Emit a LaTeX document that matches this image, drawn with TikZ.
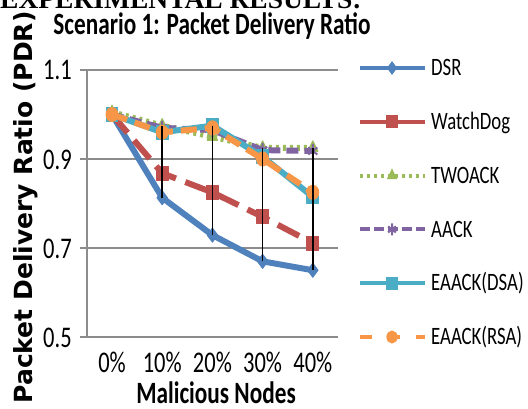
\documentclass[tikz,border=0pt]{standalone}
\usepackage{fontspec}
\setmainfont{Carlito}[FakeStretch=0.75]
\newfontfamily\ylabelfont{DejaVu Sans}
\newfontfamily\headfont{Liberation Serif}
\usetikzlibrary{plotmarks}

\definecolor{dsrblue}{HTML}{4F81BD}
\definecolor{wdred}{HTML}{C0504D}
\definecolor{twogreen}{HTML}{9BBB59}
\definecolor{aackpurple}{HTML}{8064A2}
\definecolor{dsateal}{HTML}{4BACC6}
\definecolor{rsaorange}{HTML}{F79646}
\definecolor{gridgray}{HTML}{8C8C8C}

\begin{document}
\begin{tikzpicture}[x=1pt, y=-1pt,
gridline/.style={draw=gridgray, line width=2pt},
hilo/.style={draw=black, line width=1.6pt},
plotline/.style={line width=6pt, line join=round, mark size=7pt},
keyline/.style={line width=4pt, mark size=6pt},
dsr/.style={draw=dsrblue, mark=diamond*, mark options={solid, line width=1pt, fill=dsrblue}},
watchdog/.style={draw=wdred, dash pattern=on 24pt off 10pt, mark=square*, mark options={solid, line width=1pt, fill=wdred, xscale=0.85}},
twoack/.style={draw=twogreen, dash pattern=on 3pt off 4pt, mark=triangle*, mark options={solid, line width=1pt, fill=twogreen, xscale=0.85}},
aack/.style={draw=aackpurple, dash pattern=on 12pt off 6pt, mark=asterisk, mark options={solid, line width=2pt, xscale=0.75}},
eaackdsa/.style={draw=dsateal, mark=square*, mark options={solid, line width=1pt, fill=dsateal, xscale=0.85}},
eaackrsa/.style={draw=rsaorange, dash pattern=on 16pt off 8pt, mark=*, mark options={solid, line width=1pt, fill=rsaorange, xscale=0.85}},
samekey/.style={},
solidkey/.style={solid},
aackkey/.style={dash pattern=on 10pt off 4pt},
rsakey/.style={dash pattern=on 12pt off 16pt},
ticklbl/.style={font=\fontsize{30}{32}\selectfont, inner sep=0pt},
keylbl/.style={font=\fontsize{25}{28}\selectfont, inner sep=0pt, anchor=base west}
]
\useasboundingbox (0,0) rectangle (528,409);
\clip (0,0) rectangle (528,409);

% heading cut off at the top
\node[font=\headfont\bfseries\fontsize{27.5}{30}\selectfont, anchor=base west, inner sep=0pt] (heading) at (0,8.5) {EXPERIMENTAL RESULTS:};
\node[font=\bfseries\fontsize{31}{34}\selectfont, anchor=base, inner sep=0pt] (title) at (212,35) {Scenario 1: Packet Delivery Ratio};
\node[font=\ylabelfont\bfseries\fontsize{25}{28}\selectfont, rotate=90, anchor=base, inner sep=0pt] (ylabel) at (32,207.5) {Packet Delivery Ratio (PDR)};
\node[font=\bfseries\fontsize{31}{34}\selectfont, anchor=base, inner sep=0pt] (xlabel) at (216,403) {Malicious Nodes};

% chart area: categories 0..4, values 0.5..1.1
\begin{scope}[shift={(112,559.5)}, x=50.2pt, y=445pt]
\foreach \v in {0.7,0.9,1.1}
  \draw[gridline] (-0.5,\v) -- (4.5,\v);
\draw[gridline] (-0.5,1.1) -- (-0.5,0.5) -- (4.5,0.5);
\foreach \v [count=\i] in {0.5,0.7,0.9,1.1} {
  \draw[gridline] (-0.5,\v) -- ++(-7pt,0pt);
  \node[ticklbl, anchor=base east] (ytick-\i) at (-0.5,\v) [xshift=-15pt, yshift=-10pt] {\v};
}
\foreach \lbl [count=\i from 0] in {0\%,10\%,20\%,30\%,40\%}
  \node[ticklbl, anchor=base] (xtick-\i) at (\i,0.5) [yshift=-35pt] {\lbl};

\draw[plotline, dsr] plot coordinates {(0,1.0) (1,0.813) (2,0.729) (3,0.670) (4,0.650)};
\draw[plotline, watchdog] plot coordinates {(0,1.0) (1,0.868) (2,0.825) (3,0.770) (4,0.711)};
\draw[plotline, twoack] plot coordinates {(0,1.005) (1,0.975) (2,0.950) (3,0.925) (4,0.925)};
\draw[plotline, aack] plot coordinates {(0,1.0) (1,0.970) (2,0.965) (3,0.920) (4,0.918)};
\draw[plotline, eaackdsa] plot coordinates {(0,1.0) (1,0.960) (2,0.975) (3,0.905) (4,0.815)};
\draw[plotline, eaackrsa] plot coordinates {(0,1.0) (1,0.960) (2,0.970) (3,0.900) (4,0.825)};

% high-low lines
\foreach \i/\hi/\lo in {1/0.975/0.813, 2/0.975/0.729, 3/0.925/0.670, 4/0.925/0.650}
  \draw[hilo] (\i,\hi) -- (\i,\lo);
\end{scope}

% legend
\foreach \ser/\txt/\keystyle [count=\i from 0] in {dsr/DSR/samekey, watchdog/WatchDog/solidkey, twoack/TWOACK/samekey, aack/AACK/aackkey, eaackdsa/{EAACK(DSA)}/samekey, eaackrsa/{EAACK(RSA)}/rsakey} {
  \draw[keyline, \ser, \keystyle, mark indices={2}] plot coordinates {(360,68+53.8*\i) (392,68+53.8*\i) (425,68+53.8*\i)};
  \node[keylbl] (key-\ser) at (431,75.7+53.8*\i) {\txt};
}
\end{tikzpicture}
\end{document}
